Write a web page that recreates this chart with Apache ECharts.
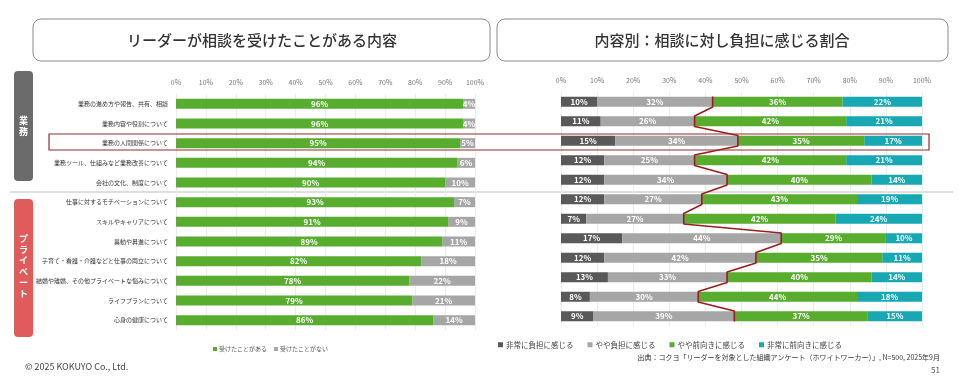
<!DOCTYPE html>
<html><head><meta charset="utf-8">
<script src="https://cdn.jsdelivr.net/npm/echarts@6/dist/echarts.min.js"></script>
<style>html,body{margin:0;padding:0;background:#fff}#c{width:960px;height:382px}</style>
</head><body><div id="c"></div>
<script>
const categories = ['業務の進め方や報告、共有、相談','業務内容や役割について','業務の人間関係について','業務ツール、仕組みなど業務改善について','会社の文化、制度について','仕事に対するモチベーションについて','スキルやキャリアについて','異動や昇進について','子育て・看護・介護などと仕事の両立について','結婚や離婚、その他プライベートな悩みについて','ライフプランについて','心身の健康について'];
const experienced = [96,96,95,94,90,93,91,89,82,78,79,86];
const notExperienced = [4,4,5,6,10,7,9,11,18,22,21,14];
const veryBurden = [10,11,15,12,12,12,7,17,12,13,8,9];
const someBurden = [32,26,34,25,34,27,27,44,42,33,30,39];
const somePositive = [36,42,35,42,40,43,42,29,35,40,44,37];
const veryPositive = [22,21,17,21,14,19,24,10,11,14,18,15];
const leftNames = ['受けたことがある','受けたことがない'];
const rightNames = ['非常に負担に感じる','やや負担に感じる','やや前向きに感じる','非常に前向きに感じる'];
const xTicks = [0,10,20,30,40,50,60,70,80,90,100];

const FONT = '"Noto Sans CJK JP", "Noto Sans", sans-serif';
const C_GREEN = '#58ad2f', C_GRAY = '#a6a6a6', C_DARK = '#595959', C_TEAL = '#17a8b4', C_RED = '#9c1c1c';

const chart = echarts.init(document.getElementById('c'), null, {renderer:'canvas'});
const pct = p => p.value + '%';
const lbl = {show:true, formatter:pct, color:'#fff', fontSize:8, fontWeight:'bold', fontFamily:FONT};

const negSum = veryBurden.map((v,i)=>v+someBurden[i]);
const linePts = [];
negSum.forEach((v,i)=>{ linePts.push([v, i-0.27]); linePts.push([v, i+0.27]); });

const xAxisCommon = {
  type:'value', min:xTicks[0], max:xTicks[xTicks.length-1], interval:xTicks[1]-xTicks[0], position:'top',
  axisLine:{show:false}, axisTick:{show:false},
  axisLabel:{formatter:'{value}%', color:'#777', fontSize:7, fontFamily:FONT, margin:8},
  splitLine:{show:true, lineStyle:{color:'#ececec', width:1}}
};

chart.setOption({
  animation:false,
  textStyle:{fontFamily:FONT},
  grid:[
    {left:176, width:299, top:94, height:236},
    {left:561, width:361, top:92, height:234}
  ],
  xAxis:[
    Object.assign({gridIndex:0}, xAxisCommon),
    Object.assign({gridIndex:1}, xAxisCommon)
  ],
  yAxis:[
    {gridIndex:0, type:'category', data:categories, inverse:true,
     axisLine:{show:false}, axisTick:{show:false},
     axisLabel:{color:'#333', fontSize:6, fontFamily:FONT, margin:8}},
    {gridIndex:1, type:'category', data:categories, inverse:true,
     axisLine:{show:false}, axisTick:{show:false}, axisLabel:{show:false}},
    {gridIndex:1, type:'value', min:-0.5, max:11.5, inverse:true, show:false}
  ],
  legend:[
    {data:leftNames, left:208, top:341, itemWidth:4, itemHeight:4, itemGap:7, icon:'rect',
     textStyle:{fontSize:6, color:'#555', fontFamily:FONT, padding:[0,0,0,-3]}},
    {data:rightNames, left:493, top:336, itemWidth:5, itemHeight:5, itemGap:14, icon:'rect',
     textStyle:{fontSize:7.5, color:'#444', fontFamily:FONT, padding:[0,0,0,-2]}}
  ],
  series:[
    {name:leftNames[0], type:'bar', stack:'a', xAxisIndex:0, yAxisIndex:0, data:experienced, barWidth:10,
     itemStyle:{color:C_GREEN}, label:Object.assign({position:'inside'}, lbl)},
    {name:leftNames[1], type:'bar', stack:'a', xAxisIndex:0, yAxisIndex:0, data:notExperienced, barWidth:10,
     itemStyle:{color:C_GRAY}, label:Object.assign({position:'inside'}, lbl)},
    {name:rightNames[0], type:'bar', stack:'b', xAxisIndex:1, yAxisIndex:1, data:veryBurden, barWidth:10,
     itemStyle:{color:C_DARK}, label:Object.assign({position:'inside'}, lbl)},
    {name:rightNames[1], type:'bar', stack:'b', xAxisIndex:1, yAxisIndex:1, data:someBurden, barWidth:10,
     itemStyle:{color:C_GRAY}, label:Object.assign({position:'inside'}, lbl)},
    {name:rightNames[2], type:'bar', stack:'b', xAxisIndex:1, yAxisIndex:1, data:somePositive, barWidth:10,
     itemStyle:{color:C_GREEN}, label:Object.assign({position:'inside'}, lbl)},
    {name:rightNames[3], type:'bar', stack:'b', xAxisIndex:1, yAxisIndex:1, data:veryPositive, barWidth:10,
     itemStyle:{color:C_TEAL}, label:Object.assign({position:'inside'}, lbl)},
    {name:'境界', type:'line', xAxisIndex:1, yAxisIndex:2, data:linePts, symbol:'none', z:10,
     lineStyle:{color:C_RED, width:1.6}, silent:true}
  ],
  graphic:[
    {type:'rect', shape:{x:33, y:19, width:457, height:42, r:8}, style:{fill:'#fff', stroke:'#8a8a8a', lineWidth:1}},
    {type:'text', x:262, y:40, style:{text:'リーダーが相談を受けたことがある内容', font:'500 15px '+FONT, fill:'#333', align:'center', verticalAlign:'middle'}},
    {type:'rect', shape:{x:497, y:19, width:451, height:42, r:8}, style:{fill:'#fff', stroke:'#8a8a8a', lineWidth:1}},
    {type:'text', x:722, y:40, style:{text:'内容別：相談に対し負担に感じる割合', font:'500 15px '+FONT, fill:'#333', align:'center', verticalAlign:'middle'}},
    {type:'rect', shape:{x:14, y:71, width:19, height:110, r:4}, style:{fill:'#6b6b6b'}},
    {type:'text', x:23.5, y:126, style:{text:'業\n務', font:'bold 9px '+FONT, fill:'#fff', align:'center', verticalAlign:'middle', lineHeight:11}},
    {type:'rect', shape:{x:14, y:199, width:19, height:138, r:4}, style:{fill:'#e05c5c'}},
    {type:'text', x:23.5, y:266, style:{text:'プ\nラ\nイ\nベ\nー\nト', font:'bold 9px '+FONT, fill:'#fff', align:'center', verticalAlign:'middle', lineHeight:11}},
    {type:'line', shape:{x1:10, y1:192, x2:953, y2:192}, style:{stroke:'#bdbdbd', lineWidth:1}},
    {type:'rect', shape:{x:49, y:134, width:880, height:16}, style:{fill:'none', stroke:'#8e2f2f', lineWidth:1.2}, z:20},
    {type:'text', x:940, y:357, style:{text:'出典：コクヨ「リーダーを対象とした組織アンケート（ホワイトワーカー）」, N=500, 2025年9月', font:'7px '+FONT, fill:'#333', align:'right', verticalAlign:'middle'}},
    {type:'text', x:940, y:370, style:{text:'51', font:'8px '+FONT, fill:'#555', align:'right', verticalAlign:'middle'}},
    {type:'text', x:25, y:367, style:{text:'© 2025 KOKUYO Co., Ltd.', font:'9px '+FONT, fill:'#444', align:'left', verticalAlign:'middle'}}
  ]
});
</script></body></html>
